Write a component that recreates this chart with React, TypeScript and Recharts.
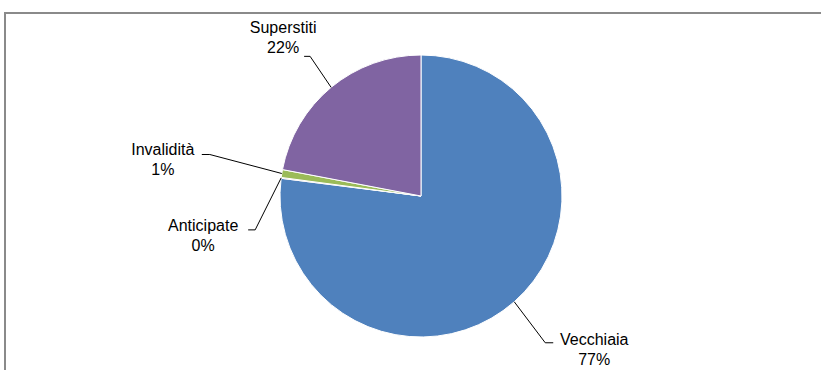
import { PieChart, Pie, Cell } from "recharts";

const categories = ["Vecchiaia", "Anticipate", "Invalidità", "Superstiti"];
const shares = [77.0, 0.1, 0.9, 22.0];

const COLORS = ["#4f81bd", "#c0504d", "#9bbb59", "#8064a2"];

// leader line / text placement relative to the slice's arc midpoint
const LABEL_POS = [
  { elbow: [31, 41], end: [39, 41], text: [80, 43] },
  { elbow: [-26, 52], end: [-33, 52], text: [-78, 53] },
  { elbow: [-72, -19], end: [-80, -19], text: [-119, -19] },
  { elbow: [-21, -31], end: [-27, -31], text: [-48, -54] },
];

const RADIAN = Math.PI / 180;
const FONT = "'Liberation Sans', Arial, sans-serif";

const data = categories.map((name, i) => ({ name, value: shares[i] }));

function renderLabel(props: any) {
  const { cx, cy, midAngle, outerRadius, percent, index, name } = props;
  const ax = cx + outerRadius * Math.cos(-midAngle * RADIAN);
  const ay = cy + outerRadius * Math.sin(-midAngle * RADIAN);
  const p = LABEL_POS[index];
  const tx = ax + p.text[0];
  const ty = ay + p.text[1];
  return (
    <g key={`lbl-${index}`}>
      <polyline
        points={`${ax},${ay} ${ax + p.elbow[0]},${ay + p.elbow[1]} ${ax + p.end[0]},${ay + p.end[1]}`}
        fill="none"
        stroke="#000"
        strokeWidth={1}
      />
      <text x={tx} y={ty} textAnchor="middle" fontSize={16} fontFamily={FONT} fill="#000">
        <tspan x={tx} y={ty}>{name}</tspan>
        <tspan x={tx} y={ty + 20}>{`${Math.round(percent * 100)}%`}</tspan>
      </text>
    </g>
  );
}

export default function App() {
  return (
    <div style={{ position: "fixed", left: 0, top: 0, width: 821, height: 370, overflow: "hidden", background: "#fff" }}>
      <div
        style={{
          position: "absolute",
          left: 4,
          top: 12,
          width: 900,
          height: 500,
          borderTop: "2px solid #8a8a8a",
          borderLeft: "2px solid #8a8a8a",
          boxSizing: "border-box",
        }}
      />
      <div style={{ position: "absolute", left: 0, top: 0 }}>
        <PieChart width={821} height={370} margin={{ top: 0, right: 0, bottom: 0, left: 0 }}>
          <Pie
            data={data}
            dataKey="value"
            nameKey="name"
            cx={421}
            cy={196}
            outerRadius={141}
            startAngle={90}
            endAngle={-270}
            stroke="#fff"
            strokeWidth={1}
            label={renderLabel}
            labelLine={false}
            isAnimationActive={false}
          >
            {data.map((d, i) => (
              <Cell key={d.name} fill={COLORS[i]} />
            ))}
          </Pie>
        </PieChart>
      </div>
    </div>
  );
}
